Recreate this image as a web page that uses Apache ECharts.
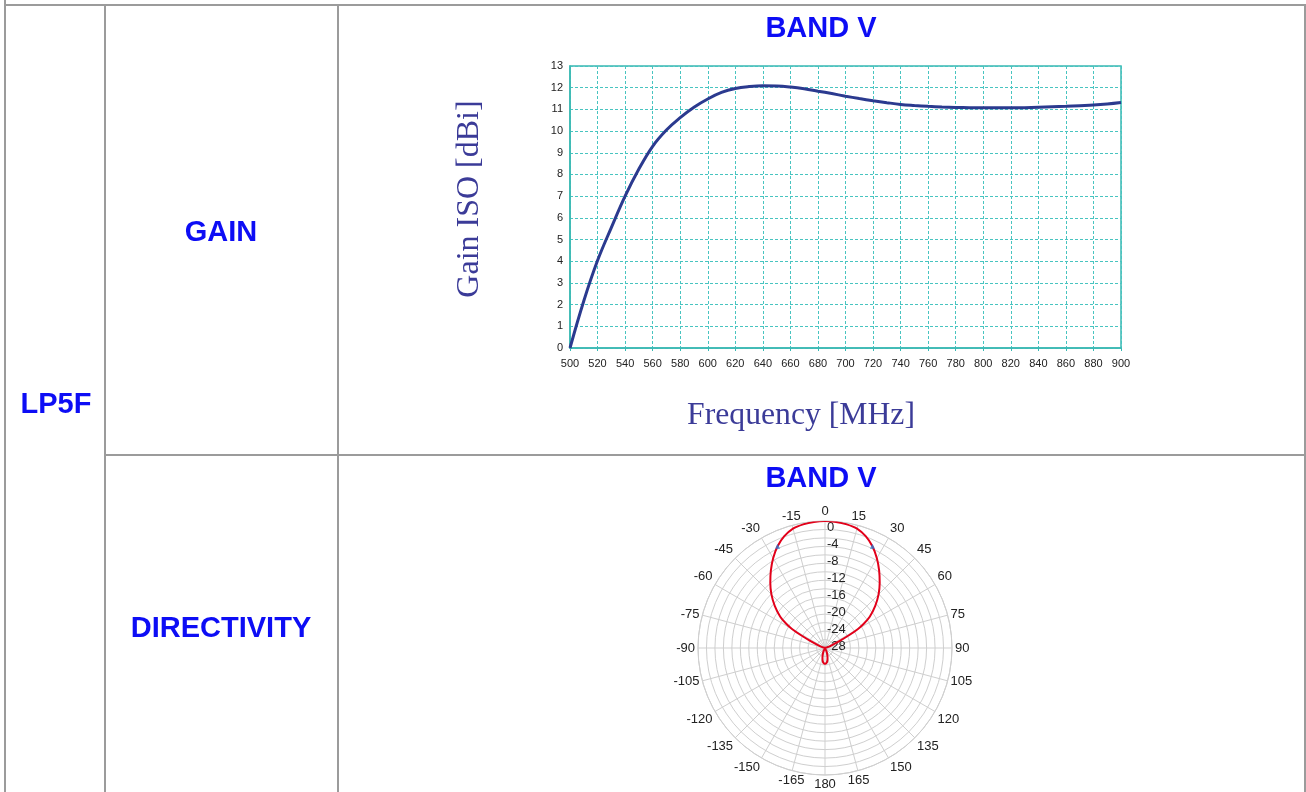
<!DOCTYPE html>
<html>
<head>
<meta charset="utf-8">
<script src="https://cdn.jsdelivr.net/npm/echarts@6/dist/echarts.min.js"></script>
<style>
html,body{margin:0;padding:0;background:#fff;}
#c{width:1306px;height:792px;}
</style>
</head>
<body>
<div id="c"></div>
<script>
// ---- Gain chart data ----
var freqMHz = [500,510,520,530,540,550,560,570,580,590,600,610,620,630,640,650,660,670,680,690,700,710,720,730,740,750,760,770,780,790,800,810,820,830,840,850,860,870,880,890,900];
var gainDbi = [0,2.17,4.03,5.55,7.0,8.25,9.3,10.05,10.62,11.1,11.48,11.78,11.96,12.05,12.09,12.08,12.03,11.95,11.84,11.73,11.61,11.5,11.4,11.31,11.23,11.18,11.14,11.11,11.09,11.08,11.07,11.07,11.07,11.08,11.1,11.12,11.14,11.17,11.2,11.25,11.32];

// ---- Directivity (polar) data ----
var patternAngles = [-180,-175,-170,-165,-160,-155,-150,-120,-90,-80,-72,-67,-64,-62,-60,-58,-55,-50,-45,-40,-35,-30,-25,-20,-15,-10,-5,0,5,10,15,20,25,30,35,40,45,50,55,58,60,62,64,67,72,80,90,120,150,155,160,165,170,175,180];
var patternDb     = [-26.2,-26.4,-26.9,-27.7,-28.5,-29.2,-30,-30,-30,-30,-29.5,-28.2,-26.0,-23.6,-21.0,-19.2,-17.1,-14.5,-12.1,-9.9,-7.7,-5.5,-3.5,-1.9,-0.8,-0.35,-0.1,0,-0.1,-0.35,-0.8,-1.9,-3.5,-5.5,-7.7,-9.9,-12.1,-14.5,-17.1,-19.2,-21.0,-23.6,-26.0,-28.2,-29.5,-30,-30,-30,-30,-29.2,-28.5,-27.7,-26.9,-26.4,-26.2];
var markerAngles = [-25, 25];
var markerDb = [-3.5, -3.5];

// ---- Texts ----
var bandTitle = 'BAND V';
var rowLabel = 'LP5F';
var gainLabel = 'GAIN';
var dirLabel = 'DIRECTIVITY';
var yAxisTitle = 'Gain ISO [dBi]';
var xAxisTitle = 'Frequency [MHz]';

function toPolarAngle(a){ return a < 0 ? a + 360 : a; }

var gainSeries = freqMHz.map(function(f,i){ return [f, gainDbi[i]]; });
var patternSeries = patternAngles.map(function(a,i){ return [patternDb[i], toPolarAngle(a)]; });
var markerSeries = markerAngles.map(function(a,i){ return [markerDb[i], toPolarAngle(a)]; });

var teal = '#3ab8b2';
var gridTeal = '#48c4c0';
var border = '#9b9b9b';
var blueTitle = '#0d0df5';
var serifCol = '#3b3b98';

var chart = echarts.init(document.getElementById('c'), null, {renderer:'canvas'});

function hline(x1,x2,y){ return {type:'line', shape:{x1:x1,y1:y,x2:x2,y2:y}, style:{stroke:border, lineWidth:2}, z:100}; }
function vline(x,y1,y2){ return {type:'line', shape:{x1:x,y1:y1,x2:x,y2:y2}, style:{stroke:border, lineWidth:2}, z:100}; }
function txt(s,x,y,font,color,rot){
  return {type:'text', x:x, y:y, rotation: rot||0, style:{text:s, font:font, fill:color, align:'center', verticalAlign:'middle'}, z:100};
}

chart.setOption({
  animation:false,
  backgroundColor:'#fff',
  grid:{left:570, right:185, top:66, bottom:444, show:true, borderColor:teal, borderWidth:1.5, backgroundColor:'transparent'},
  xAxis:{type:'value', min:500, max:900, interval:20,
    axisLine:{show:true, lineStyle:{color:teal, width:1.5}},
    axisTick:{show:true, length:3, lineStyle:{color:teal}},
    axisLabel:{color:'#222', fontSize:11, fontFamily:'Liberation Sans, Arial, sans-serif', margin:10},
    splitLine:{show:true, lineStyle:{color:gridTeal, type:[3,2], width:1}}
  },
  yAxis:{type:'value', min:0, max:13, interval:1,
    axisLine:{show:true, lineStyle:{color:teal, width:1.5}},
    axisTick:{show:false},
    axisLabel:{color:'#222', fontSize:11, fontFamily:'Liberation Sans, Arial, sans-serif', margin:7},
    splitLine:{show:true, lineStyle:{color:gridTeal, type:[3,2], width:1}}
  },
  polar:{center:[825,648], radius:127},
  angleAxis:{type:'value', min:0, max:360, interval:15, startAngle:90, clockwise:true,
    axisLine:{show:true, lineStyle:{color:'#cfcfcf', width:1}},
    axisTick:{show:false},
    axisLabel:{color:'#222', fontSize:13, fontFamily:'Liberation Sans, Arial, sans-serif', margin:3, align:'center', verticalAlign:'middle',
      formatter:function(v){ return v > 180 ? String(v-360) : String(v); }},
    splitLine:{show:true, lineStyle:{color:'#cfcfcf', width:1}}
  },
  radiusAxis:{type:'value', min:-30, max:0, interval:2,
    axisLine:{show:false}, axisTick:{show:false},
    axisLabel:{color:'#222', fontSize:13, fontFamily:'Liberation Sans, Arial, sans-serif', margin:-2, align:'left', verticalAlign:'top',
      formatter:function(v){ return (v % 4 === 0) ? String(v) : ''; }},
    splitLine:{show:true, lineStyle:{color:'#cfcfcf', width:1}}
  },
  series:[
    {type:'line', xAxisIndex:0, yAxisIndex:0, data:gainSeries, smooth:0.4, showSymbol:false,
      lineStyle:{color:'#2b3a8f', width:3}},
    {type:'line', coordinateSystem:'polar', data:patternSeries, smooth:0.2, showSymbol:false,
      lineStyle:{color:'#e2001a', width:2}},
    {type:'scatter', coordinateSystem:'polar', data:markerSeries, symbol:'triangle', symbolSize:5, z:10,
      itemStyle:{color:'#2a78d0'}}
  ],
  graphic:[
    vline(5,0,792), hline(5,1306,5), vline(105,5,792), vline(338,5,792), vline(1305,5,792), hline(105,1306,455),
    txt(bandTitle, 821, 29, 'bold 29px "Liberation Sans", Arial, sans-serif', blueTitle),
    txt(bandTitle, 821, 479, 'bold 29px "Liberation Sans", Arial, sans-serif', blueTitle),
    txt(gainLabel, 221, 233, 'bold 29px "Liberation Sans", Arial, sans-serif', blueTitle),
    txt(dirLabel, 221, 629, 'bold 29px "Liberation Sans", Arial, sans-serif', blueTitle),
    txt(rowLabel, 56, 405, 'bold 29px "Liberation Sans", Arial, sans-serif', blueTitle),
    txt(xAxisTitle, 801, 416, '31.7px "Liberation Serif", "Times New Roman", serif', serifCol),
    txt(yAxisTitle, 470, 199, '32px "Liberation Serif", "Times New Roman", serif', serifCol, Math.PI/2)
  ]
});
</script>
</body>
</html>
